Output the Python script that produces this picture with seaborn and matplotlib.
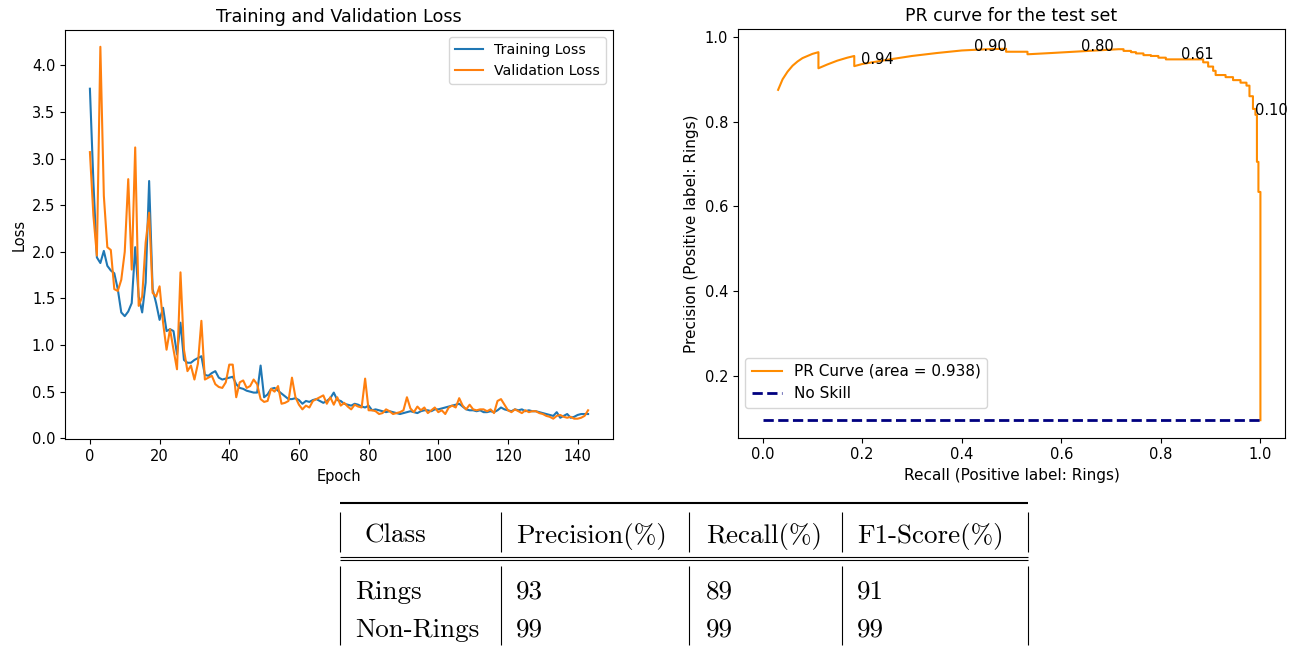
import matplotlib
matplotlib.use("Agg")
import matplotlib.pyplot as plt
import pandas as pd
import seaborn as sns

# ---------------- data ----------------
train_loss = [
    3.75, 2.75, 1.94, 1.88, 2.01, 1.85, 1.80, 1.77, 1.60, 1.35,
    1.31, 1.36, 1.45, 2.05, 1.52, 1.35, 1.67, 2.76, 1.60, 1.45,
    1.27, 1.40, 1.15, 1.17, 1.15, 0.90, 1.24, 0.84, 0.81, 0.81,
    0.84, 0.86, 0.88, 0.68, 0.67, 0.70, 0.72, 0.65, 0.63, 0.64,
    0.65, 0.66, 0.58, 0.54, 0.53, 0.51, 0.50, 0.49, 0.49, 0.78,
    0.44, 0.47, 0.53, 0.54, 0.51, 0.48, 0.45, 0.42, 0.42, 0.43,
    0.41, 0.37, 0.40, 0.39, 0.41, 0.42, 0.40, 0.38, 0.40, 0.43,
    0.49, 0.41, 0.40, 0.37, 0.36, 0.35, 0.37, 0.36, 0.34, 0.33,
    0.35, 0.30, 0.31, 0.30, 0.29, 0.28, 0.29, 0.28, 0.27, 0.26,
    0.27, 0.28, 0.29, 0.28, 0.27, 0.29, 0.30, 0.30, 0.29, 0.31,
    0.31, 0.32, 0.33, 0.34, 0.35, 0.36, 0.37, 0.34, 0.31, 0.30,
    0.30, 0.29, 0.30, 0.28, 0.28, 0.29, 0.28, 0.30, 0.33, 0.31,
    0.30, 0.29, 0.31, 0.30, 0.31, 0.29, 0.30, 0.29, 0.29, 0.28,
    0.27, 0.26, 0.25, 0.24, 0.28, 0.22, 0.24, 0.26, 0.22, 0.23,
    0.25, 0.26, 0.26, 0.26,
]
val_loss = [
    3.07, 2.39, 1.96, 4.20, 2.60, 2.05, 2.02, 1.60, 1.58, 1.70,
    2.00, 2.78, 1.81, 3.12, 1.42, 1.52, 2.10, 2.42, 1.56, 1.52,
    1.63, 1.24, 0.95, 1.17, 0.95, 0.74, 1.78, 0.95, 0.72, 0.78,
    0.63, 0.80, 1.26, 0.63, 0.65, 0.67, 0.58, 0.55, 0.54, 0.60,
    0.79, 0.79, 0.44, 0.60, 0.62, 0.54, 0.56, 0.63, 0.58, 0.42,
    0.39, 0.40, 0.53, 0.50, 0.56, 0.37, 0.38, 0.40, 0.65, 0.44,
    0.36, 0.31, 0.35, 0.33, 0.40, 0.42, 0.44, 0.46, 0.37, 0.44,
    0.36, 0.44, 0.35, 0.38, 0.34, 0.31, 0.36, 0.34, 0.33, 0.64,
    0.30, 0.30, 0.29, 0.26, 0.27, 0.31, 0.29, 0.26, 0.27, 0.28,
    0.30, 0.44, 0.32, 0.28, 0.34, 0.30, 0.33, 0.27, 0.30, 0.33,
    0.28, 0.30, 0.26, 0.33, 0.35, 0.33, 0.43, 0.35, 0.31, 0.36,
    0.31, 0.30, 0.31, 0.31, 0.29, 0.31, 0.27, 0.40, 0.42, 0.36,
    0.30, 0.28, 0.31, 0.29, 0.27, 0.30, 0.28, 0.29, 0.29, 0.27,
    0.26, 0.24, 0.23, 0.21, 0.24, 0.25, 0.23, 0.22, 0.23, 0.21,
    0.21, 0.22, 0.24, 0.30,
]
epochs = list(range(len(train_loss)))

pr_recall = [
    0.031, 0.040, 0.050, 0.060, 0.070, 0.080, 0.090, 0.100, 0.112, 0.112,
    0.130, 0.150, 0.170, 0.184, 0.184, 0.200, 0.250, 0.300, 0.350, 0.400,
    0.450, 0.489, 0.489, 0.532, 0.532, 0.580, 0.640, 0.700, 0.715, 0.725,
    0.725, 0.740, 0.740, 0.750, 0.750, 0.765, 0.765, 0.780, 0.780, 0.795,
    0.795, 0.810, 0.810, 0.885, 0.885, 0.895, 0.895, 0.905, 0.905, 0.910,
    0.910, 0.930, 0.930, 0.945, 0.945, 0.960, 0.960, 0.972, 0.972, 0.978,
    0.978, 0.985, 0.985, 0.990, 0.990, 0.993, 0.993, 0.996, 0.996, 1.000,
    1.000,
]
pr_precision = [
    0.875, 0.900, 0.918, 0.932, 0.942, 0.950, 0.955, 0.960, 0.964, 0.926,
    0.935, 0.944, 0.951, 0.955, 0.931, 0.936, 0.946, 0.955, 0.962, 0.968,
    0.971, 0.972, 0.965, 0.965, 0.959, 0.962, 0.966, 0.970, 0.971, 0.971,
    0.967, 0.967, 0.964, 0.964, 0.961, 0.961, 0.957, 0.957, 0.955, 0.955,
    0.951, 0.951, 0.947, 0.947, 0.940, 0.940, 0.930, 0.930, 0.920, 0.920,
    0.910, 0.910, 0.905, 0.905, 0.898, 0.898, 0.892, 0.892, 0.885, 0.885,
    0.860, 0.860, 0.830, 0.830, 0.816, 0.816, 0.705, 0.705, 0.634, 0.634,
    0.095,
]
no_skill_level = 0.095
pr_area = 0.938

thr_labels = ["0.94", "0.90", "0.80", "0.61", "0.10"]
thr_recall = [0.198, 0.425, 0.640, 0.840, 0.990]
thr_precision = [0.937, 0.967, 0.966, 0.948, 0.816]

table_header = ["Class", "Precision(%)", "Recall(%)", "F1-Score(%)"]
table_classes = ["Rings", "Non-Rings"]
table_precision = [93, 99]
table_recall = [89, 99]
table_f1 = [91, 99]

# ---------------- figure ----------------
W, H = 1296, 649
fig = plt.figure(figsize=(W / 100, H / 100), dpi=100)
fig.patch.set_facecolor("white")

# Results table drawn on a full-figure overlay in pixel units
ax_t = fig.add_axes([0, 0, 1, 1])
ax_t.set_xlim(0, W)
ax_t.set_ylim(H, 0)
ax_t.axis("off")
ax_t.patch.set_visible(False)

col_edges = [340, 500.5, 689, 842, 1028]
ax_t.hlines(502.5, col_edges[0], col_edges[-1], color="black", lw=1.5)
ax_t.hlines([556.5, 559.5], col_edges[0], col_edges[-1], color="black", lw=0.8)
ax_t.vlines(col_edges, 512, 552, color="black", lw=0.8)
ax_t.vlines(col_edges, 566, 645, color="black", lw=0.8)

tfont = dict(family="cmr10", fontsize=19.5, color="black", va="baseline", ha="left")
text_x = [364, 516, 706, 857]
for x, lab in zip(text_x, table_header):
    ax_t.text(x, 542.5, lab, **tfont)
row_base = [598.5, 636.5]
body_x = [355, 516, 706, 857]
for i, cls in enumerate(table_classes):
    vals = [cls, str(table_precision[i]), str(table_recall[i]), str(table_f1[i])]
    for x, v in zip(body_x, vals):
        ax_t.text(x, row_base[i], v, **tfont)

# ---- Training / validation loss ----
ax1 = fig.add_axes([65 / W, 1 - 439 / H, 548 / W, 409 / H])
sns.lineplot(x=epochs, y=train_loss, color="#1f77b4", lw=1.5,
             label="Training Loss", ax=ax1)
sns.lineplot(x=epochs, y=val_loss, color="#ff7f0e", lw=1.5,
             label="Validation Loss", ax=ax1)
ax1.set_xlim(-7.15, 150.15)
ax1.set_ylim(-0.008, 4.38)
ax1.set_xticks(range(0, 141, 20))
ax1.set_yticks([0.0, 0.5, 1.0, 1.5, 2.0, 2.5, 3.0, 3.5, 4.0])
ax1.set_title("Training and Validation Loss", fontsize=12.7)
ax1.set_xlabel("Epoch", fontsize=10.5)
ax1.set_ylabel("Loss", fontsize=10.5)
ax1.tick_params(labelsize=10.5)
ax1.legend(loc="upper right", fontsize=10.2)

# ---- Precision-recall curve ----
ax2 = fig.add_axes([737.8 / W, 1 - 437.7 / H, 547.5 / W, 408.4 / H])
sns.lineplot(x=pr_recall, y=pr_precision, sort=False, estimator=None,
             color="darkorange", lw=1.5,
             label=f"PR Curve (area = {pr_area:.3f})", ax=ax2)
sns.lineplot(x=[0.0, 1.0], y=[no_skill_level, no_skill_level],
             color="navy", lw=2, linestyle="--", label="No Skill", ax=ax2)
for r, p, lab in zip(thr_recall, thr_precision, thr_labels):
    ax2.text(r, p, lab, fontsize=10.5, ha="left", va="baseline")
ax2.set_xlim(-0.05, 1.05)
ax2.set_ylim(0.0536, 1.018)
ax2.set_xticks([0.0, 0.2, 0.4, 0.6, 0.8, 1.0])
ax2.set_yticks([0.2, 0.4, 0.6, 0.8, 1.0])
ax2.set_title("PR curve for the test set", fontsize=12.5)
ax2.set_xlabel("Recall (Positive label: Rings)", fontsize=11)
ax2.set_ylabel("Precision (Positive label: Rings)", fontsize=11)
ax2.tick_params(labelsize=10.5)
ax2.legend(loc="lower left", bbox_to_anchor=(0.0, 0.055), fontsize=11)

fig.savefig("out.png", dpi=100)
